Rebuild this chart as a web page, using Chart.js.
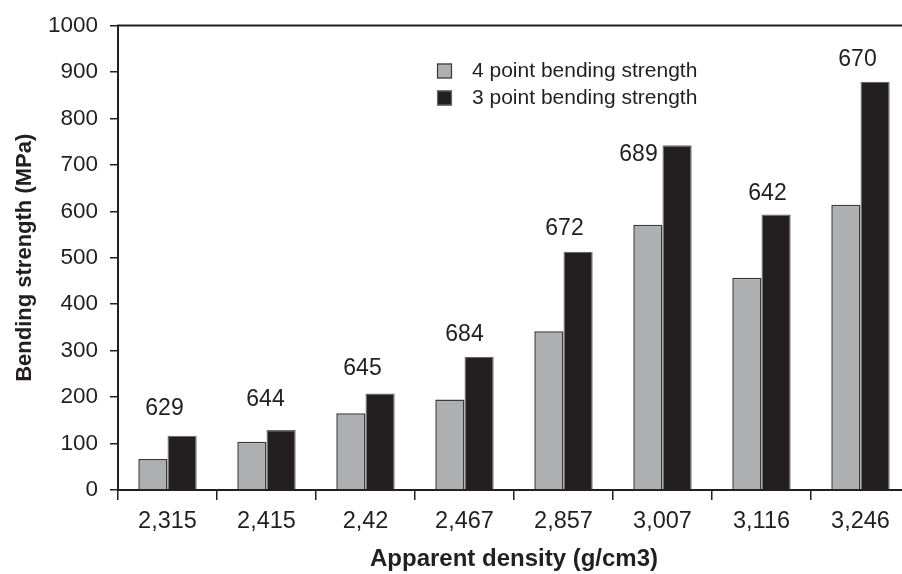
<!DOCTYPE html>
<html>
<head>
<meta charset="utf-8">
<script src="https://cdn.jsdelivr.net/npm/chart.js@4/dist/chart.umd.min.js"></script>
<style>
  html, body { margin: 0; padding: 0; background: #fff; overflow: hidden; }
  #wrap { width: 902px; height: 574px; overflow: hidden; }
</style>
</head>
<body>
<div id="wrap"><canvas id="myChart" width="911" height="574"></canvas></div>
<script>
// apparent density (g/cm3) categories
const densities = ["2,315", "2,415", "2,42", "2,467", "2,857", "3,007", "3,116", "3,246"];
// bending strength values (MPa)
const fourPoint = [67, 104, 165, 195, 342, 571, 457, 614];
const threePoint = [117, 129, 208, 287, 513, 742, 593, 879];
// numbers printed above each group
const groupLabels = ["629", "644", "645", "684", "672", "689", "642", "670"];
const seriesNames = ["4 point bending strength", "3 point bending strength"];

const FONT = "'Liberation Sans', Arial, Helvetica, sans-serif";
const INK = "#231f20";

// top frame line + group labels + legend box
const decor = {
    id: "decor",
    // small per-label nudges (px) relative to the top of the 3 point bar
    nudge: [[-3, -27], [-1, -30], [-3, -25], [0, -22], [1, -23], [-24, 9], [6, -21], [-3, -22]],
    afterDraw(chart) {
        const ctx = chart.ctx;
        const area = chart.chartArea;
        const x = chart.scales.x, y = chart.scales.y;
        ctx.save();

        ctx.strokeStyle = INK;
        ctx.lineWidth = 2;
        ctx.beginPath();
        ctx.moveTo(area.left - 1, area.top);
        ctx.lineTo(area.right, area.top);
        ctx.stroke();

        ctx.fillStyle = INK;
        ctx.font = "23px " + FONT;
        ctx.textAlign = "center";
        ctx.textBaseline = "middle";
        groupLabels.forEach((t, i) => {
            const n = this.nudge[i];
            ctx.fillText(t, x.getPixelForValue(i) + n[0], y.getPixelForValue(threePoint[i]) + n[1]);
        });

        ctx.font = "21px " + FONT;
        ctx.textAlign = "left";
        chart.data.datasets.forEach((ds, i) => {
            const cy = 71 + i * 27;
            ctx.fillStyle = ds.backgroundColor;
            ctx.fillRect(437, cy - 7.5, 15, 15);
            ctx.strokeStyle = ds.borderColor;
            ctx.lineWidth = 1.2;
            ctx.strokeRect(437.5, cy - 7, 14, 14);
            ctx.fillStyle = INK;
            ctx.fillText(ds.label, 472, cy);
        });
        ctx.restore();
    }
};

var ctx = document.getElementById("myChart").getContext("2d");
var chart = new Chart(ctx, {
    type: "bar",
    data: {
        labels: densities,
        datasets: [
            {
                label: seriesNames[0],
                data: fourPoint,
                backgroundColor: "#aeafb1",
                borderColor: "#3a3a3a",
                borderWidth: 1.5,
                categoryPercentage: 0.59,
                barPercentage: 1.0,
            },
            {
                label: seriesNames[1],
                data: threePoint,
                backgroundColor: "#231f20",
                borderColor: "#6a6a6a",
                borderWidth: 1.2,
                categoryPercentage: 0.59,
                barPercentage: 1.0,
            },
        ],
    },
    options: {
        responsive: false,
        animation: false,
        layout: { padding: { top: 23, right: 1, left: 0, bottom: 0 } },
        plugins: { legend: { display: false }, tooltip: { enabled: false } },
        scales: {
            x: {
                afterFit: (s) => { s.height = 84; },
                border: { display: true, color: INK, width: 2 },
                grid: { display: true, drawOnChartArea: false, drawTicks: true, tickLength: 10, color: INK, lineWidth: 1.5, offset: true },
                ticks: { color: INK, font: { family: FONT, size: 23.5 }, padding: 7 },
                title: { display: true, text: "Apparent density (g/cm3)", color: INK, font: { family: FONT, size: 24, weight: "bold" }, padding: { top: 0, bottom: 0 } },
            },
            y: {
                min: 0,
                max: 1000,
                afterFit: (s) => { s.width = 118; },
                border: { display: true, color: INK, width: 2 },
                grid: { display: true, drawOnChartArea: false, drawTicks: true, tickLength: 8, color: INK, lineWidth: 1.5 },
                ticks: { stepSize: 100, color: INK, font: { family: FONT, size: 22.5 }, padding: 12, callback: (v) => String(v) },
                title: { display: true, text: "Bending strength (MPa)", color: INK, font: { family: FONT, size: 22, weight: "bold" }, padding: { top: 12, bottom: 0 } },
            },
        },
    },
    plugins: [decor],
});
</script>
</body>
</html>
